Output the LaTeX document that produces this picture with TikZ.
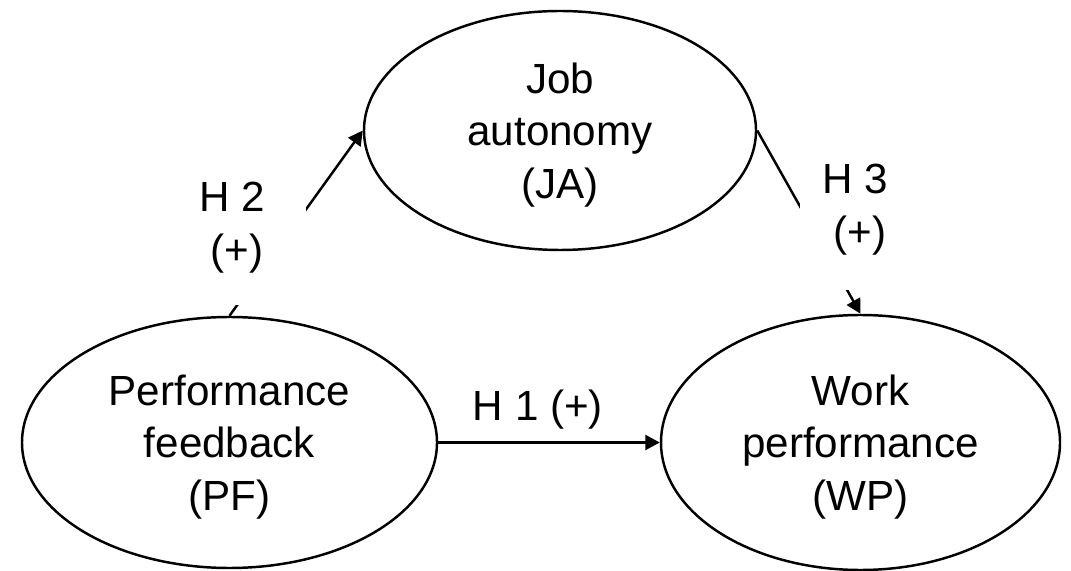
\documentclass[tikz,border=0pt]{standalone}
\usepackage{fontspec}
\setmainfont{Liberation Sans}
\usetikzlibrary{shapes.geometric,arrows.meta}

\begin{document}
\begin{tikzpicture}[font=\fontsize{24}{30}\selectfont, line width=1.4pt,
    var/.style={draw, ellipse, align=center, inner sep=0pt, text depth=-0.18cm},
    hyp/.style={fill=white, align=left, inner sep=0pt},
    >={Triangle[length=2.9mm,width=3mm]}]
    \useasboundingbox (0,0) rectangle (21.42,11.4);

    % constructs
    \node[var, minimum width=8.3cm, minimum height=5.02cm] (pf) at (4.59,2.55) {Performance\\feedback\\(PF)};
    \node[var, minimum width=7.84cm, minimum height=4.78cm, text depth=-0.44cm] (ja) at (11.2,8.79) {Job\\autonomy\\(JA)};
    \node[var, minimum width=7.98cm, minimum height=5.1cm] (wp) at (17.21,2.55) {Work\\performance\\(WP)};

    % paths
    \draw[->] (pf.east) -- (wp.west);
    \draw[->] (pf.north) -- (ja.west);
    \draw[->] (ja.east) -- (wp.north);

    % hypotheses
    \node (h1) at (10.76,3.2) {H 1 (+)};
    \node[hyp, minimum width=2.96cm, minimum height=3.1cm] (h2) at (4.64,6.85) {H 2\\~(+)};
    \node[hyp, minimum width=2.2cm, minimum height=3.2cm] (h3) at (17.1,7.2) {H 3\\~(+)};
\end{tikzpicture}
\end{document}
